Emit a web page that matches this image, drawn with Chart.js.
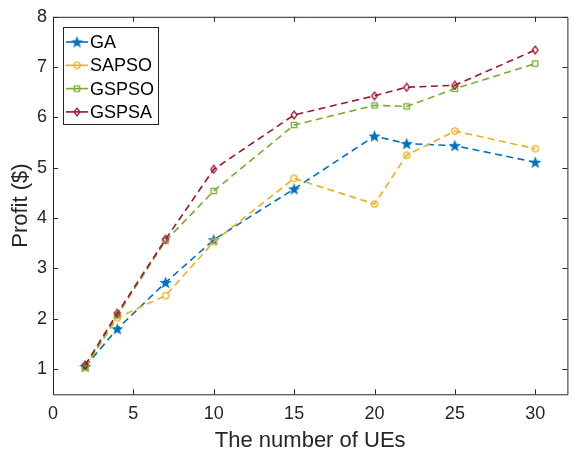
<!DOCTYPE html>
<html>
<head>
    <meta charset="UTF-8">
    <title>Profit vs UEs</title>
    <script src="https://cdn.jsdelivr.net/npm/chart.js"></script>
    <style>
        html, body { margin: 0; padding: 0; background: #fff; overflow: hidden; }
        canvas { display: block; }
    </style>
</head>
<body>
    <canvas id="chart" width="573" height="456"></canvas>

    <script>
        // data
        const ues = [2, 4, 7, 10, 15, 20, 22, 25, 30];
        const gaProfit = [1.05, 1.80, 2.72, 3.57, 4.58, 5.63, 5.48, 5.44, 5.11];
        const sapsoProfit = [1.03, 2.02, 2.46, 3.53, 4.79, 4.28, 5.25, 5.73, 5.38];
        const gspsoProfit = [1.05, 2.07, 3.55, 4.54, 5.85, 6.24, 6.22, 6.57, 7.07];
        const gspsaProfit = [1.08, 2.11, 3.58, 4.97, 6.05, 6.43, 6.60, 6.64, 7.34];
        const seriesNames = ['GA', 'SAPSO', 'GSPSO', 'GSPSA'];
        const xTicks = [0, 5, 10, 15, 20, 25, 30];
        const yTicks = [1, 2, 3, 4, 5, 6, 7, 8];

        const axisColor = '#262626';
        const fontFamily = '"Liberation Sans", Arial, Helvetica, sans-serif';

        // matlab-like markers drawn onto small canvases
        function makeMarker(kind, color) {
            const c = document.createElement('canvas');
            const s = kind === 'star' ? 15 : 10;
            c.width = s; c.height = s;
            const g = c.getContext('2d');
            const m = s / 2;
            g.strokeStyle = color;
            g.fillStyle = color;
            g.lineWidth = 1.3;
            g.beginPath();
            if (kind === 'star') {
                for (let i = 0; i < 10; i++) {
                    const r = i % 2 === 0 ? 6.5 : 2.7;
                    const a = -Math.PI / 2 + i * Math.PI / 5;
                    const px = m + r * Math.cos(a), py = m + 0.5 + r * Math.sin(a);
                    if (i === 0) g.moveTo(px, py); else g.lineTo(px, py);
                }
                g.closePath();
                g.fill();
            } else if (kind === 'circle') {
                g.arc(m, m, 3.2, 0, Math.PI * 2);
                g.stroke();
            } else if (kind === 'square') {
                g.rect(m - 2.7, m - 2.7, 5.4, 5.4);
                g.stroke();
            } else {
                g.moveTo(m, m - 3.9);
                g.lineTo(m + 2.9, m);
                g.lineTo(m, m + 3.9);
                g.lineTo(m - 2.9, m);
                g.closePath();
                g.stroke();
            }
            return c;
        }

        const colors = ['#0072BD', '#EDB120', '#77AC30', '#A2142F'];
        const markers = [
            makeMarker('star', colors[0]),
            makeMarker('circle', colors[1]),
            makeMarker('square', colors[2]),
            makeMarker('diamond', colors[3])
        ];
        const values = [gaProfit, sapsoProfit, gspsoProfit, gspsaProfit];

        const datasets = values.map((vals, i) => ({
            label: seriesNames[i],
            data: ues.map((x, j) => ({ x: x, y: vals[j] })),
            borderColor: colors[i],
            backgroundColor: colors[i],
            borderWidth: 1.6,
            borderDash: [7, 4.5],
            pointStyle: markers[i],
            pointRadius: 4,
            tension: 0,
            fill: false,
            order: 4 - i
        }));

        // box with inward ticks + legend inside the axes
        const framePlugin = {
            id: 'frame',
            afterDraw(chart) {
                const ctx = chart.ctx;
                const a = chart.chartArea;
                const xs = chart.scales.x, ys = chart.scales.y;
                ctx.save();
                ctx.strokeStyle = axisColor;
                ctx.lineWidth = 1;
                ctx.setLineDash([]);
                ctx.beginPath();
                ctx.rect(a.left + 0.5, a.top + 0.5, a.right - a.left, a.bottom - a.top);
                ctx.stroke();
                const tl = 5;
                ctx.beginPath();
                xTicks.forEach(v => {
                    const px = Math.round(xs.getPixelForValue(v)) + 0.5;
                    ctx.moveTo(px, a.bottom); ctx.lineTo(px, a.bottom - tl);
                    ctx.moveTo(px, a.top); ctx.lineTo(px, a.top + tl);
                });
                yTicks.forEach(v => {
                    const py = Math.round(ys.getPixelForValue(v)) + 0.5;
                    ctx.moveTo(a.left, py); ctx.lineTo(a.left + tl, py);
                    ctx.moveTo(a.right, py); ctx.lineTo(a.right - tl, py);
                });
                ctx.stroke();

                // legend
                const lx = 63.5, ly = 27.5, lw = 95, lh = 97;
                ctx.fillStyle = '#fff';
                ctx.fillRect(lx, ly, lw, lh);
                ctx.strokeStyle = axisColor;
                ctx.lineWidth = 1;
                ctx.strokeRect(lx, ly, lw, lh);
                ctx.font = '18px ' + fontFamily;
                ctx.textBaseline = 'middle';
                ctx.textAlign = 'left';
                seriesNames.forEach((name, i) => {
                    const y = 42 + i * 23.3;
                    ctx.strokeStyle = colors[i];
                    ctx.lineWidth = 1.6;
                    ctx.beginPath();
                    ctx.moveTo(66, y); ctx.lineTo(88, y);
                    ctx.stroke();
                    const mk = markers[i];
                    ctx.drawImage(mk, 77 - mk.width / 2, y - mk.height / 2);
                    ctx.fillStyle = '#000';
                    ctx.fillText(name, 90, y + 1);
                });
                ctx.restore();
            }
        };

        new Chart(document.getElementById('chart'), {
            type: 'line',
            data: { datasets: datasets },
            options: {
                responsive: false,
                animation: false,
                layout: { padding: { top: 16.5, right: 0, left: 0, bottom: 0 } },
                plugins: {
                    legend: { display: false },
                    tooltip: { enabled: false }
                },
                scales: {
                    x: {
                        type: 'linear',
                        min: 0,
                        max: 32,
                        afterBuildTicks: s => { s.ticks = xTicks.map(v => ({ value: v })); },
                        afterFit: s => { s.height = 61.7; },
                        grid: { display: false, drawTicks: false },
                        border: { display: false },
                        ticks: {
                            autoSkip: false,
                            maxRotation: 0,
                            padding: 9,
                            color: axisColor,
                            font: { family: fontFamily, size: 18 }
                        },
                        title: {
                            display: true,
                            text: 'The number of UEs',
                            color: axisColor,
                            padding: { top: 0, bottom: 1.8 },
                            font: { family: fontFamily, size: 22 }
                        }
                    },
                    y: {
                        type: 'linear',
                        min: 0.5,
                        max: 8,
                        afterBuildTicks: s => { s.ticks = yTicks.map(v => ({ value: v })); },
                        afterFit: s => { s.width = 53; },
                        grid: { display: false, drawTicks: false },
                        border: { display: false },
                        ticks: {
                            autoSkip: false,
                            padding: 6,
                            color: axisColor,
                            font: { family: fontFamily, size: 18 }
                        },
                        title: {
                            display: true,
                            text: 'Profit ($)',
                            color: axisColor,
                            padding: { top: 8, bottom: 0 },
                            font: { family: fontFamily, size: 22 }
                        }
                    }
                }
            },
            plugins: [framePlugin]
        });
    </script>
</body>
</html>
